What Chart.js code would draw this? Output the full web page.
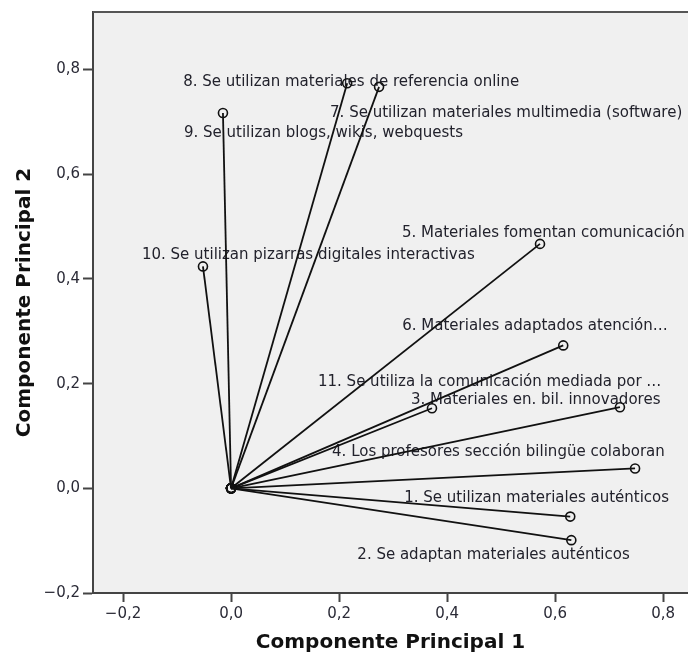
<!DOCTYPE html>
<html>
<head>
<meta charset="utf-8">
<script src="https://cdn.jsdelivr.net/npm/chart.js@4/dist/chart.umd.min.js"></script>
<style>
  html, body { margin: 0; padding: 0; background: #fff; }
  #wrap { width: 688px; height: 655px; }
</style>
</head>
<body>
<div id="wrap"><canvas id="plot" width="688" height="655"></canvas></div>
<script>
'use strict';

// variable names as printed next to each loading
const items = [
  '1. Se utilizan materiales auténticos',
  '2. Se adaptan materiales auténticos',
  '3. Materiales en. bil. innovadores',
  '4. Los profesores sección bilingüe colaboran',
  '5. Materiales fomentan comunicación',
  '6. Materiales adaptados atención…',
  '7. Se utilizan materiales multimedia (software)',
  '8. Se utilizan materiales de referencia online',
  '9. Se utilizan blogs, wikis, webquests',
  '10. Se utilizan pizarras digitales interactivas',
  '11. Se utiliza la comunicación mediada por …',
];
// loadings on component 1 and 2
const comp1 = [0.628, 0.630, 0.720, 0.748, 0.572, 0.615, 0.274, 0.215, -0.015, -0.052, 0.372];
const comp2 = [-0.054, -0.099, 0.155, 0.038, 0.467, 0.273, 0.767, 0.774, 0.717, 0.424, 0.153];
const xTicks = [-0.2, 0, 0.2, 0.4, 0.6, 0.8];
const yTicks = [-0.2, 0, 0.2, 0.4, 0.6, 0.8];

// where each label sits, in px from its end point (left edge, vertical middle)
const labelShift = [
  [-166, -18], [-214, 15], [-209, -7], [-303, -16], [-138, -11], [-161, -19],
  [-49, 26], [-164, -1], [-39, 20], [-61, -11], [-114, -26],
];

const fmt = v => v.toFixed(1).replace('.', ',').replace('-', '−');
const INK = '#2a2a36';

const frame = {
  id: 'frame',
  beforeDraw(chart) {
    const { ctx, chartArea: a } = chart;
    ctx.save();
    ctx.fillStyle = '#f0f0f0';
    ctx.fillRect(a.left, a.top, a.right - a.left, a.bottom - a.top);
    ctx.restore();
  },
  afterDraw(chart) {
    const { ctx, chartArea: a } = chart;
    ctx.save();
    ctx.strokeStyle = '#555';
    ctx.lineWidth = 2;
    ctx.beginPath();
    ctx.moveTo(a.left, a.top);
    ctx.lineTo(a.right, a.top);
    ctx.stroke();
    ctx.restore();
  },
};

const tags = {
  id: 'tags',
  beforeDatasetsDraw(chart) {
    const { ctx } = chart;
    ctx.save();
    ctx.font = '15px "DejaVu Sans"';
    ctx.fillStyle = '#22222c';
    ctx.textAlign = 'left';
    ctx.textBaseline = 'middle';
    chart.data.datasets.forEach((ds, i) => {
      const pt = chart.getDatasetMeta(i).data[1];
      if (!pt) return;
      ctx.fillText(ds.label, pt.x + labelShift[i][0], pt.y + labelShift[i][1]);
    });
    ctx.restore();
  },
};

const datasets = items.map((name, i) => ({
  label: name,
  data: [{ x: 0, y: 0 }, { x: comp1[i], y: comp2[i] }],
  showLine: true,
  borderColor: '#111',
  borderWidth: 1.8,
  pointRadius: 4.5,
  pointBorderWidth: 1.6,
  pointBorderColor: '#111',
  pointBackgroundColor: 'rgba(0,0,0,0)',
}));

new Chart(document.getElementById('plot'), {
  type: 'scatter',
  data: { datasets },
  options: {
    responsive: false,
    animation: false,
    layout: { autoPadding: false, padding: { top: 12, right: 0, bottom: 0, left: 0 } },
    plugins: { legend: { display: false }, tooltip: { enabled: false } },
    scales: {
      x: {
        type: 'linear',
        min: -0.2556,
        max: 0.846,
        afterFit: s => { s.height = 62; s.paddingLeft = 0; s.paddingRight = 0; },
        afterBuildTicks: s => { s.ticks = xTicks.map(v => ({ value: v })); },
        ticks: { callback: fmt, color: INK, font: { family: 'DejaVu Sans', size: 15 }, padding: 3, maxRotation: 0 },
        grid: { drawOnChartArea: false, drawTicks: true, tickLength: 9, tickWidth: 2, tickColor: '#444' },
        border: { display: true, color: '#444', width: 2 },
        title: { display: true, text: 'Componente Principal 1', color: '#111', font: { family: 'DejaVu Sans', size: 20, weight: 'bold' }, padding: { top: 0, bottom: 0 } },
      },
      y: {
        type: 'linear',
        min: -0.2,
        max: 0.91,
        afterFit: s => { s.width = 93; s.paddingTop = 0; s.paddingBottom = 0; },
        afterBuildTicks: s => { s.ticks = yTicks.map(v => ({ value: v })); },
        ticks: { callback: fmt, color: INK, font: { family: 'DejaVu Sans', size: 15 }, padding: 3 },
        grid: { drawOnChartArea: false, drawTicks: true, tickLength: 10, tickWidth: 2, tickColor: '#444' },
        border: { display: true, color: '#444', width: 2 },
        title: { display: true, text: 'Componente Principal 2', color: '#111', font: { family: 'DejaVu Sans', size: 20, weight: 'bold' }, padding: { top: 13, bottom: 0 } },
      },
    },
  },
  plugins: [frame, tags],
});
</script>
</body>
</html>
